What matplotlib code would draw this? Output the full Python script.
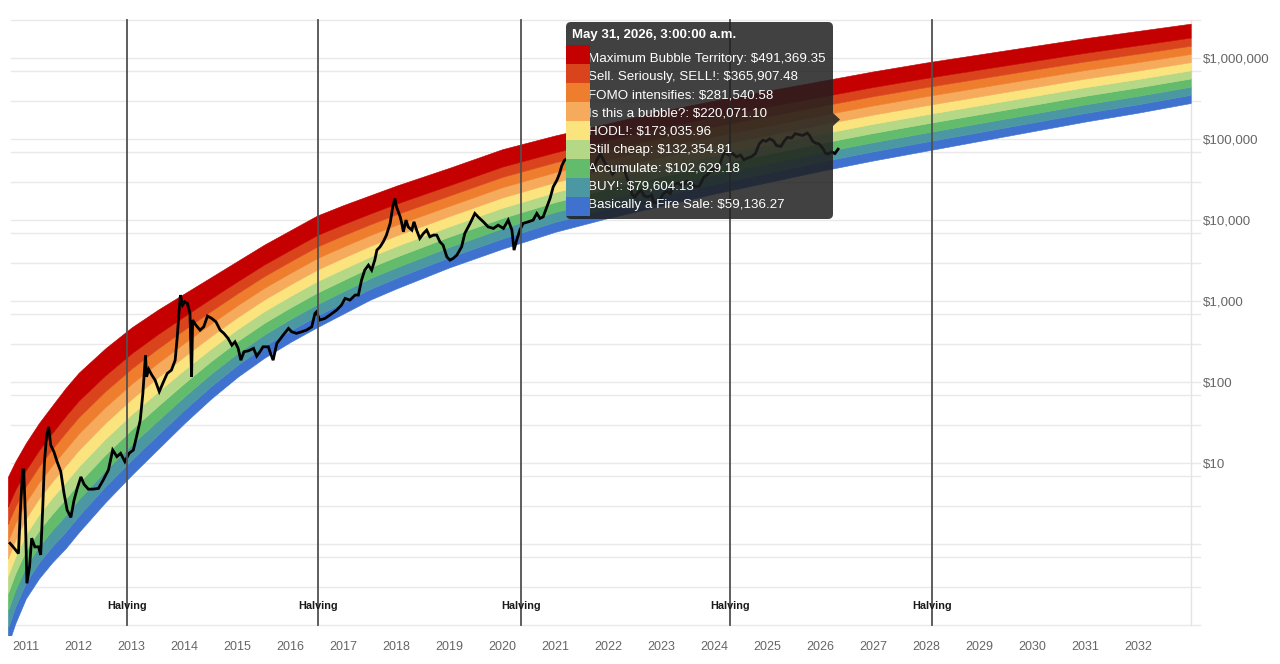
import numpy as np
import matplotlib.pyplot as plt
from matplotlib.patches import FancyBboxPatch, Rectangle, Polygon
from matplotlib.transforms import Affine2D, blended_transform_factory
from matplotlib.ticker import NullLocator

plt.rcParams['font.family'] = ['Liberation Sans', 'DejaVu Sans']

# rainbow band envelope (USD)
band_years = [2010.66, 2010.8, 2011.0, 2011.25, 2011.5, 2011.75, 2012.0, 2012.5, 2013.0, 2013.5,
              2014.0, 2014.5, 2015.0, 2015.5, 2016.0, 2016.5, 2017.0, 2017.5, 2018.0, 2019.0,
              2020.0, 2021.0, 2022.0, 2023.0, 2024.0, 2025.0, 2026.0, 2027.0, 2028.0, 2029.0,
              2030.0, 2031.0, 2032.0, 2033.0]
band_top = [6.8, 10.5, 17.8, 31.6, 52, 85, 132, 263, 479, 794,
            1259, 1995, 3162, 5012, 7586, 11480, 15490, 20420, 26920, 44670,
            75860, 112200, 158500, 223900, 302000, 398100, 524800, 691800, 891300, 1122000,
            1413000, 1778000, 2188000, 2692000]
band_bottom = [0.056, 0.105, 0.214, 0.38, 0.60, 0.89, 1.41, 3.3, 7.2, 15.1,
               31.6, 63, 117, 200, 316, 479, 708, 1047, 1445, 2630,
               4467, 7244, 10720, 15140, 21380, 29510, 40740, 54950, 72440, 95500,
               125900, 166000, 213800, 281800]

band_names = ['Maximum Bubble Territory', 'Sell. Seriously, SELL!', 'FOMO intensifies',
              'Is this a bubble?', 'HODL!', 'Still cheap', 'Accumulate', 'BUY!',
              'Basically a Fire Sale']
band_colors = ['#c40000', '#d9441c', '#ee7d2e', '#f5aa5c', '#fbe37e',
               '#b5d886', '#63bc6c', '#4b98a3', '#3f72cf']
band_weights = [1.7, 1, 1, 1, 1, 1, 1, 1, 1]

tooltip_title = 'May 31, 2026, 3:00:00 a.m.'
tooltip_values = [491369.35, 365907.48, 281540.58, 220071.10, 173035.96,
                  132354.81, 102629.18, 79604.13, 59136.27]

# bitcoin price
price_years = [
    2010.70, 2010.76, 2010.86, 2010.90, 2010.94, 2010.96, 2010.99, 2011.02, 2011.07, 2011.11,
    2011.17, 2011.24, 2011.28, 2011.32, 2011.35, 2011.39, 2011.43, 2011.47, 2011.53, 2011.59,
    2011.66, 2011.72, 2011.78, 2011.85, 2011.91, 2011.97, 2012.04, 2012.10, 2012.18, 2012.27,
    2012.37, 2012.46, 2012.56, 2012.64, 2012.72, 2012.79, 2012.87, 2012.95, 2013.03, 2013.09,
    2013.16, 2013.21, 2013.26, 2013.28, 2013.32, 2013.38, 2013.44, 2013.52, 2013.60, 2013.67,
    2013.75, 2013.82, 2013.86, 2013.90, 2013.92, 2013.96, 2014.00, 2014.05, 2014.10, 2014.13,
    2014.15, 2014.21, 2014.29, 2014.36, 2014.43, 2014.51, 2014.59, 2014.67, 2014.74, 2014.82,
    2014.89, 2014.95, 2015.01, 2015.06, 2015.12, 2015.20, 2015.30, 2015.36, 2015.42, 2015.48,
    2015.58, 2015.61, 2015.67, 2015.74, 2015.86, 2015.96, 2016.02, 2016.11, 2016.21, 2016.30,
    2016.40, 2016.46, 2016.49, 2016.55, 2016.65, 2016.74, 2016.87, 2016.96, 2017.03, 2017.12,
    2017.22, 2017.28, 2017.34, 2017.40, 2017.47, 2017.53, 2017.59, 2017.63, 2017.69, 2017.75,
    2017.81, 2017.88, 2017.93, 2017.97, 2018.00, 2018.07, 2018.10, 2018.13, 2018.18, 2018.22,
    2018.29, 2018.33, 2018.38, 2018.44, 2018.51, 2018.57, 2018.63, 2018.70, 2018.76, 2018.82,
    2018.88, 2018.95, 2019.01, 2019.07, 2019.14, 2019.23, 2019.29, 2019.39, 2019.48, 2019.54,
    2019.64, 2019.73, 2019.83, 2019.92, 2020.02, 2020.11, 2020.18, 2020.22, 2020.27, 2020.33,
    2020.39, 2020.49, 2020.58, 2020.65, 2020.71, 2020.77, 2020.84, 2020.90, 2020.96, 2021.03,
    2021.08, 2021.12, 2021.17, 2021.22, 2021.29, 2021.33, 2021.38, 2021.43, 2021.50, 2021.56,
    2021.62, 2021.68, 2021.72, 2021.78, 2021.85, 2021.90, 2021.96, 2022.03, 2022.08, 2022.15,
    2022.22, 2022.26, 2022.32, 2022.38, 2022.45, 2022.50, 2022.56, 2022.62, 2022.68, 2022.75,
    2022.82, 2022.86, 2022.95, 2023.03, 2023.10, 2023.17, 2023.24, 2023.32, 2023.40, 2023.48,
    2023.56, 2023.64, 2023.72, 2023.80, 2023.88, 2023.95, 2024.03, 2024.10, 2024.16, 2024.20,
    2024.27, 2024.35, 2024.42, 2024.50, 2024.56, 2024.63, 2024.70, 2024.78, 2024.85, 2024.92,
    2024.98, 2025.05, 2025.12, 2025.18, 2025.26, 2025.32, 2025.38, 2025.46, 2025.53, 2025.60,
    2025.67, 2025.76, 2025.80, 2025.86, 2025.92, 2025.98, 2026.05, 2026.10, 2026.15, 2026.22,
    2026.28, 2026.34]
price_usd = [
    1.03, 0.93, 0.77, 2.9, 8.3, 8.3, 2.4, 0.33, 0.53, 1.19,
    0.93, 0.93, 0.74, 2.9, 10, 21.3, 28.3, 16.8, 13.9, 10.5,
    7.9, 4.3, 2.65, 2.15, 3.5, 4.9, 6.8, 5.5, 4.8, 4.8,
    4.9, 6.2, 8.3, 14.6, 12.1, 13.3, 10.5, 13.3, 14.6, 21.3,
    34, 73, 217, 117, 145, 123, 107, 77, 102, 129,
    142, 188, 366, 857, 1197, 900, 989, 950, 711, 117,
    588, 510, 442, 486, 659, 617, 560, 442, 403, 349,
    288, 317, 263, 188, 239, 245, 263, 211, 239, 275,
    275, 239, 188, 303, 384, 464, 422, 403, 422, 442,
    486, 711, 745, 588, 617, 678, 781, 900, 1089, 1038,
    1197, 1197, 1832, 2433, 2805, 2433, 3236, 4300, 4720, 5445,
    6590, 9190, 14720, 18700, 14720, 11070, 9190, 7230, 10090, 8340,
    7590, 9620, 7590, 6000, 6920, 7590, 6280, 6590, 6590, 5445,
    4950, 3556, 3236, 3396, 3733, 4720, 6920, 9190, 12190, 11070,
    9620, 8340, 7960, 8750, 7960, 10090, 7590, 4300, 5710, 7590,
    9190, 9620, 10090, 12190, 10600, 11070, 14720, 18700, 26000, 31500,
    38000, 47000, 55000, 58000, 63000, 55000, 42000, 36000, 33000, 31000,
    44000, 48000, 43000, 55000, 66000, 57000, 48000, 43000, 37000, 42000,
    44000, 47000, 39000, 30000, 21000, 19500, 22000, 23500, 20000, 19500,
    20500, 16500, 16800, 21000, 23000, 21500, 28000, 29000, 26500, 30500,
    29500, 26000, 26500, 34000, 37000, 42500, 43000, 48000, 62000, 70000,
    64000, 67000, 61000, 64000, 56000, 59000, 61000, 67000, 88000, 98000,
    95000, 102000, 96000, 84000, 82000, 95000, 106000, 104000, 118000, 115000,
    112000, 120000, 112000, 95000, 90000, 88000, 78000, 68000, 66000, 70000,
    67000, 76000]

halving_years = [2012.91, 2016.52, 2020.36, 2024.30, 2028.11]
year_ticks = list(range(2011, 2033))
price_ticks = [10, 100, 1000, 10000, 100000, 1000000]
price_tick_labels = ['$10', '$100', '$1,000', '$10,000', '$100,000', '$1,000,000']
grid_values = [0.1, 0.3, 0.7, 1, 3, 7, 10, 30, 70, 100, 300, 700, 1000, 3000, 7000,
               10000, 30000, 70000, 100000, 300000, 700000, 1000000, 3000000]

W, H = 1280, 664
fig = plt.figure(figsize=(W / 100, H / 100), dpi=100)
ax = fig.add_axes([8 / W, 1 - 635 / H, 1183 / W, 617 / H])
ax.set_yscale('log')
x0, x1 = 2010.663, 2033.005
ax.set_xlim(x0, x1)
ax.set_ylim(10 ** -1.12, 10 ** 6.5)
for s in ax.spines.values():
    s.set_visible(False)

# grid (extends a little past the right border like tick marks)
for v in grid_values:
    ax.axhline(v, xmin=0.0025, xmax=1 + 9 / 1183, color='#e9e9e9', lw=1, zorder=0, clip_on=False)
ax.plot([x1, x1], [0.1, 3e6], color='#e3e3e3', lw=1, zorder=0, clip_on=False)

# rainbow bands
lo = np.log10(band_bottom)
hi = np.log10(band_top)
w = np.array(band_weights[::-1], dtype=float)
edges = np.concatenate([[0], np.cumsum(w)]) / w.sum()
cols = band_colors[::-1]
for i in range(len(cols)):
    b0 = 10 ** (lo + (hi - lo) * edges[i])
    b1 = 10 ** (lo + (hi - lo) * edges[i + 1])
    ax.fill_between(band_years, b0, b1, color=cols[i], lw=0.4, edgecolor=cols[i], zorder=1)

ax.plot(price_years, price_usd, color='black', lw=2.0, zorder=3, solid_joinstyle='miter')

btrans = blended_transform_factory(ax.transData, ax.transAxes)
for h in halving_years:
    ax.plot([h, h], [0.1, 3e6], color='#505050', lw=1.3, zorder=4)
    ax.text(h, (635 - 605.7) / 617, 'Halving', transform=btrans, ha='center', va='center',
            fontsize=7.8, fontweight='bold', color='#1a1a1a', zorder=5)

ax.set_xticks(year_ticks)
ax.set_xticklabels([str(y) for y in year_ticks])
ax.tick_params(axis='x', length=0, pad=4, labelcolor='#666666', labelsize=9)
ax.yaxis.tick_right()
ax.set_yticks(price_ticks)
ax.set_yticklabels(price_tick_labels)
ax.yaxis.set_minor_locator(NullLocator())
ax.tick_params(axis='y', length=0, pad=8.5, labelcolor='#666666', labelsize=9.6)

# tooltip, placed in image pixel coordinates
pix = Affine2D().scale(1, -1).translate(0, H)
box_col = '#1f1f1f'
fig.add_artist(FancyBboxPatch((566, 22), 267, 197, boxstyle='round,pad=0,rounding_size=5',
                              transform=pix, facecolor=box_col, edgecolor='none', alpha=0.85, zorder=10))
fig.add_artist(Polygon([(833, 113), (840, 119.5), (833, 126)], closed=True, transform=pix,
                       facecolor=box_col, edgecolor='none', alpha=0.85, zorder=10))
fig.text(572, 35, tooltip_title, transform=pix, color='white', fontsize=9.5, fontweight='bold',
         va='center', ha='left', zorder=11)
for i, (name, val) in enumerate(zip(band_names, tooltip_values)):
    fig.text(587.5, 59 + 18.2 * i, f'{name}: ${val:,.2f}', transform=pix, color='white',
             fontsize=9.6, va='center', ha='left', zorder=11)
    fig.add_artist(Rectangle((566, 45 + 19 * i), 24, 19, transform=pix, facecolor=band_colors[i],
                             edgecolor='none', zorder=12))

fig.savefig('out.png', dpi=100)
